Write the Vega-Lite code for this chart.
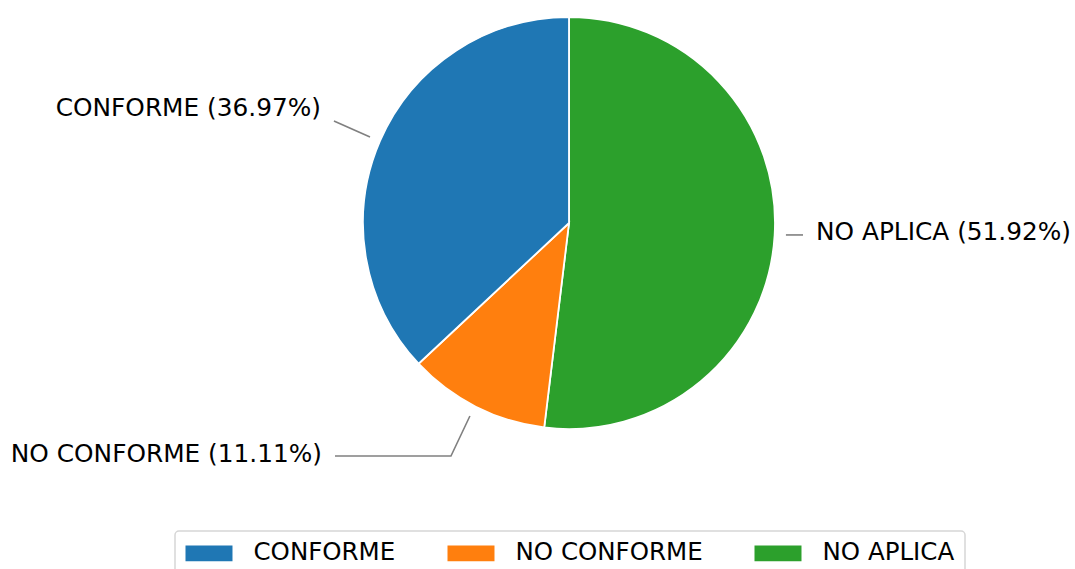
{
  "$schema": "https://vega.github.io/schema/vega-lite/v6.json",
  "width": 1075,
  "height": 569,
  "padding": 0,
  "autosize": {"type": "none"},
  "background": "white",
  "config": {
    "view": {"stroke": null},
    "font": "DejaVu Sans",
    "legend": {
      "labelFont": "DejaVu Sans",
      "labelFontSize": 24.5,
      "labelColor": "black",
      "labelLimit": 0,
      "labelBaseline": "middle",
      "symbolType": "M-1,-0.68H3V0.68H-1Z",
      "symbolSize": 552,
      "symbolStrokeWidth": 0,
      "labelOffset": 44,
      "columnPadding": 51,
      "padding": 10,
      "strokeColor": "#d6d6d6",
      "strokeWidth": 1.5,
      "cornerRadius": 4,
      "fillColor": "white"
    }
  },
  "datasets": {
    "slices": [
      {"category": "NO APLICA", "value": 51.92, "order": 1},
      {"category": "NO CONFORME", "value": 11.11, "order": 2},
      {"category": "CONFORME", "value": 36.97, "order": 3}
    ],
    "leaders": [
      {"label": "CONFORME", "step": 1, "x": -0.966, "y": 0.417},
      {"label": "CONFORME", "step": 2, "x": -1.141, "y": 0.495},
      {"label": "NO APLICA", "step": 1, "x": 1.053, "y": -0.058},
      {"label": "NO APLICA", "step": 2, "x": 1.136, "y": -0.058},
      {"label": "NO CONFORME", "step": 1, "x": -0.481, "y": -0.937},
      {"label": "NO CONFORME", "step": 2, "x": -0.573, "y": -1.131},
      {"label": "NO CONFORME", "step": 3, "x": -1.136, "y": -1.131}
    ],
    "labels": [
      {"text": "CONFORME (36.97%)", "side": "left", "x": -1.204, "y": 0.52},
      {"text": "NO CONFORME (11.11%)", "side": "left", "x": -1.199, "y": -1.16},
      {"text": "NO APLICA (51.92%)", "side": "right", "x": 1.199, "y": -0.082}
    ]
  },
  "layer": [
    {
      "data": {"name": "slices"},
      "mark": {"type": "arc", "outerRadius": 206, "stroke": "white", "strokeWidth": 1.8},
      "encoding": {
        "x": {"datum": 0, "type": "quantitative", "scale": {"domain": [-2.7621, 2.4563], "nice": false, "zero": false}, "axis": null},
        "y": {"datum": 0, "type": "quantitative", "scale": {"domain": [-1.6796, 1.0825], "nice": false, "zero": false}, "axis": null},
        "theta": {"field": "value", "type": "quantitative", "stack": true},
        "order": {"field": "order", "type": "quantitative"},
        "color": {
          "field": "category",
          "type": "nominal",
          "scale": {"domain": ["CONFORME", "NO CONFORME", "NO APLICA"], "range": ["#1f77b4", "#ff7f0e", "#2ca02c"]},
          "legend": {"title": null, "orient": "none", "direction": "horizontal", "legendX": 175, "legendY": 531}
        }
      }
    },
    {
      "data": {"name": "leaders"},
      "mark": {"type": "line", "color": "#808080", "strokeWidth": 1.6},
      "encoding": {
        "x": {"field": "x", "type": "quantitative", "axis": null},
        "y": {"field": "y", "type": "quantitative", "axis": null},
        "detail": {"field": "label"},
        "order": {"field": "step", "type": "quantitative"}
      }
    },
    {
      "data": {"name": "labels"},
      "transform": [{"filter": "datum.side === 'left'"}],
      "mark": {"type": "text", "align": "right", "baseline": "alphabetic", "fontSize": 24.8, "font": "DejaVu Sans", "color": "black"},
      "encoding": {
        "x": {"field": "x", "type": "quantitative", "axis": null},
        "y": {"field": "y", "type": "quantitative", "axis": null},
        "text": {"field": "text"}
      }
    },
    {
      "data": {"name": "labels"},
      "transform": [{"filter": "datum.side === 'right'"}],
      "mark": {"type": "text", "align": "left", "baseline": "alphabetic", "fontSize": 24.8, "font": "DejaVu Sans", "color": "black"},
      "encoding": {
        "x": {"field": "x", "type": "quantitative", "axis": null},
        "y": {"field": "y", "type": "quantitative", "axis": null},
        "text": {"field": "text"}
      }
    }
  ]
}
